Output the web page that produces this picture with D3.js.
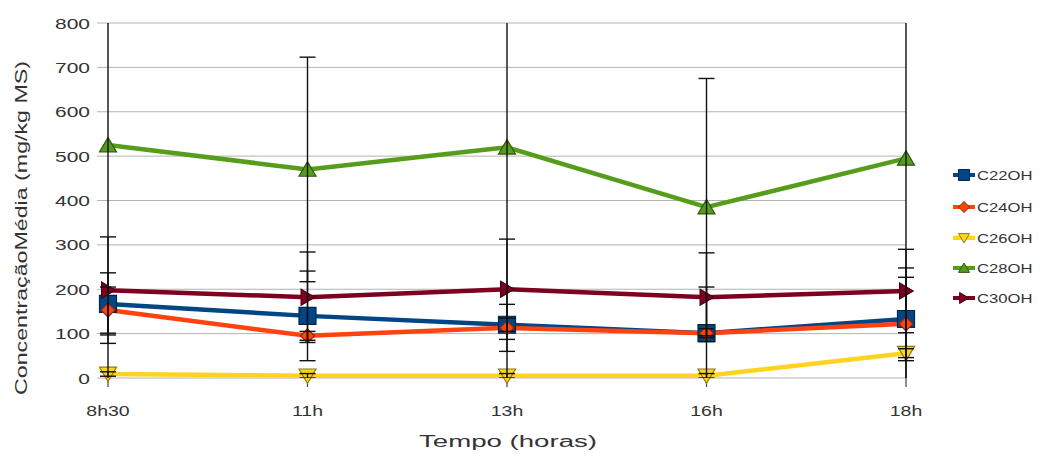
<!DOCTYPE html>
<html>
<head>
<meta charset="utf-8">
<script src="https://cdn.jsdelivr.net/npm/d3@7"></script>
<style>
  html, body { margin: 0; padding: 0; background: #fff; }
  svg { display: block; font-family: "Liberation Sans", Arial, sans-serif; }
</style>
</head>
<body>
<svg id="chart" width="1043" height="461"></svg>
<script>
// Sampling times
const times = ["8h30", "11h", "13h", "16h", "18h"];

// Mean concentration (mg/kg MS) per compound
const c22oh = [167, 140, 120, 101, 133];
const c24oh = [153, 95, 113, 101, 122];
const c26oh = [9, 5, 5, 5, 56];
const c28oh = [525, 470, 520, 385, 495];
const c30oh = [198, 182, 200, 182, 196];

// Standard deviations
const c22ohSd = [70, 101, 15, 10, 94];
const c24ohSd = [52, 10, 53, 104, 126];
const c26ohSd = [5, 5, 5, 5, 10];
const c28ohSd = [600, 253, 560, 290, 560];
const c30ohSd = [120, 102, 113, 100, 94];

const yTicks = [0, 100, 200, 300, 400, 500, 600, 700, 800];

const series = [
  { name: "C22OH", values: c22oh, sd: c22ohSd, color: "#004586", marker: "square" },
  { name: "C24OH", values: c24oh, sd: c24ohSd, color: "#ff420e", marker: "diamond" },
  { name: "C26OH", values: c26oh, sd: c26ohSd, color: "#ffd320", marker: "down" },
  { name: "C28OH", values: c28oh, sd: c28ohSd, color: "#579d1c", marker: "up" },
  { name: "C30OH", values: c30oh, sd: c30ohSd, color: "#7e0021", marker: "right" }
];

const svg = d3.select("#chart");
const plotLeft = 108, plotRight = 906, plotTop = 23, plotBottom = 378;

const x = d3.scalePoint().domain(times).range([plotLeft, plotRight]);
const y = d3.scaleLinear().domain([0, 800]).range([plotBottom, plotTop]);

// horizontally widened text helper
function label(g, txt, px, py, opts) {
  const sx = opts.sx || 1.3;
  return g.append("text")
    .attr("transform", `translate(${px},${py}) scale(${sx},1)`)
    .attr("text-anchor", opts.anchor || "start")
    .attr("font-size", opts.size || 14)
    .attr("fill", opts.fill || "#333")
    .text(txt);
}

// gridlines with outer tick stubs
const grid = svg.append("g");
grid.selectAll("line").data(yTicks).join("line")
  .attr("x1", plotLeft - 11).attr("x2", plotRight)
  .attr("y1", d => y(d)).attr("y2", d => y(d))
  .attr("stroke", "#b3b3b3").attr("stroke-width", 1);

// y tick labels
const yl = svg.append("g");
yTicks.forEach(t => label(yl, String(t), 90, y(t) + 5.5, { anchor: "end", size: 15, sx: 1.4 }));

// x axis ticks and labels
const xa = svg.append("g");
xa.selectAll("line").data(times).join("line")
  .attr("x1", d => x(d)).attr("x2", d => x(d))
  .attr("y1", plotBottom).attr("y2", plotBottom + 9)
  .attr("stroke", "#444").attr("stroke-width", 1.2);
times.forEach(t => label(xa, t, x(t), 416, { anchor: "middle", size: 15, sx: 1.3 }));

// axis titles
svg.append("text")
  .attr("transform", "translate(27,228) rotate(-90)")
  .attr("text-anchor", "middle")
  .attr("font-size", 16).attr("fill", "#333")
  .attr("textLength", 334).attr("lengthAdjust", "spacingAndGlyphs")
  .text("ConcentraçãoMédia  (mg/kg MS)");
svg.append("text")
  .attr("x", 508).attr("y", 447)
  .attr("text-anchor", "middle")
  .attr("font-size", 16).attr("fill", "#333")
  .attr("textLength", 178).attr("lengthAdjust", "spacingAndGlyphs")
  .text("Tempo (horas)");

// marker shapes
function markerPath(type, s) {
  const h = s / 2;
  switch (type) {
    case "square": return `M${-h},${-h}H${h}V${h}H${-h}Z`;
    case "diamond": return `M0,${-h}L${h},0L0,${h}L${-h},0Z`;
    case "down": return `M${-h},${-h * 0.8}H${h}L0,${h * 0.9}Z`;
    case "up": return `M${-h},${h * 0.8}H${h}L0,${-h * 0.9}Z`;
    case "right": return `M${-h * 0.8},${-h}L${h * 0.9},0L${-h * 0.8},${h}Z`;
  }
}
const markerSize = { square: 17, diamond: 14, down: 17, up: 17, right: 16 };

// lines
const line = d3.line().x((d, i) => x(times[i])).y(d => y(d));
const lines = svg.append("g");
series.forEach(s => {
  lines.append("path")
    .attr("d", line(s.values))
    .attr("fill", "none")
    .attr("stroke", s.color)
    .attr("stroke-width", 4.5)
    .attr("stroke-linejoin", "round");
});

// markers
const marks = svg.append("g");
series.forEach(s => {
  marks.selectAll(null).data(s.values).join("path")
    .attr("transform", (d, i) => `translate(${x(times[i])},${y(d)})`)
    .attr("d", markerPath(s.marker, markerSize[s.marker]))
    .attr("fill", s.color)
    .attr("stroke", d3.color(s.color).darker(1.6))
    .attr("stroke-width", 1.2);
});

// error bars, clipped to the plotting area
svg.append("clipPath").attr("id", "plotClip")
  .append("rect").attr("x", plotLeft - 20).attr("y", plotTop)
  .attr("width", plotRight - plotLeft + 40).attr("height", plotBottom - plotTop);
const err = svg.append("g").attr("clip-path", "url(#plotClip)");
series.forEach(s => {
  s.values.forEach((v, i) => {
    const cx = x(times[i]);
    const hi = v + s.sd[i], lo = v - s.sd[i];
    err.append("line")
      .attr("x1", cx).attr("x2", cx)
      .attr("y1", y(hi)).attr("y2", y(lo))
      .attr("stroke", "#111").attr("stroke-width", 1.4);
    [hi, lo].forEach(e => {
      if (e >= 0 && e <= 800) {
        err.append("line")
          .attr("x1", cx - 8).attr("x2", cx + 8)
          .attr("y1", y(e)).attr("y2", y(e))
          .attr("stroke", "#111").attr("stroke-width", 1.4);
      }
    });
  });
});

// legend
const legend = svg.append("g");
const legendY = [175, 207, 238, 268, 298];
series.forEach((s, i) => {
  const ly = legendY[i];
  legend.append("line")
    .attr("x1", 953).attr("x2", 975).attr("y1", ly).attr("y2", ly)
    .attr("stroke", s.color).attr("stroke-width", 4);
  legend.append("path")
    .attr("transform", `translate(964,${ly})`)
    .attr("d", markerPath(s.marker, 11))
    .attr("fill", s.color)
    .attr("stroke", d3.color(s.color).darker(1.6))
    .attr("stroke-width", 1);
  label(legend, s.name, 977, ly + 5, { size: 13, sx: 1.28 });
});
</script>
</body>
</html>
